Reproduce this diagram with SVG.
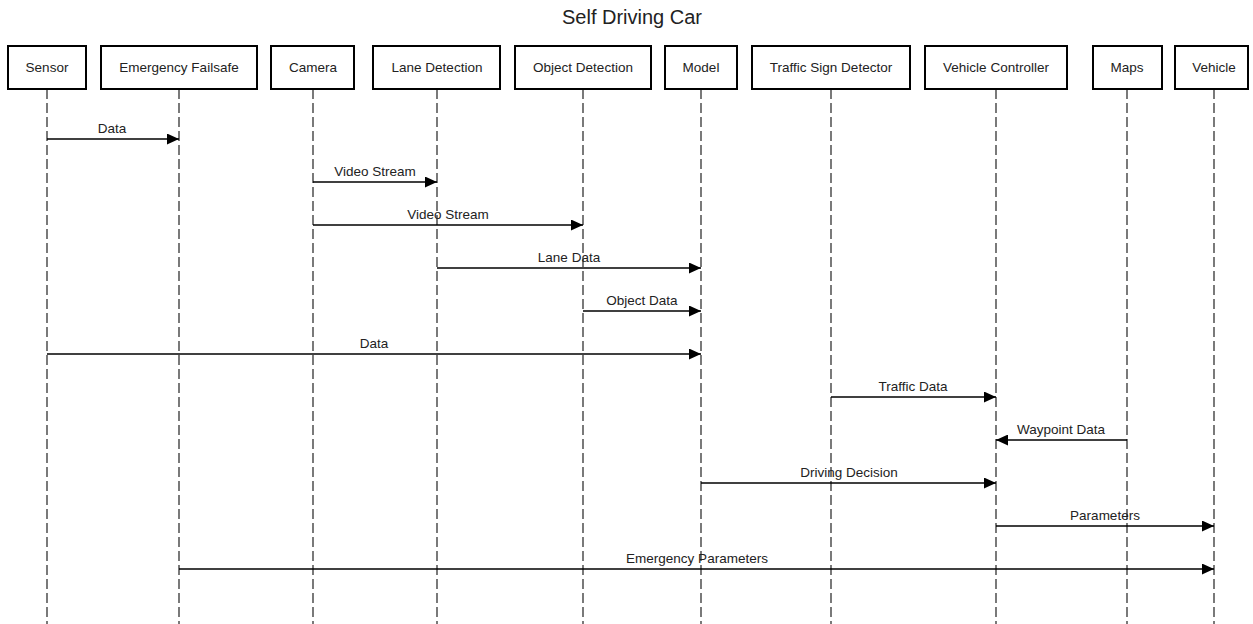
<svg xmlns="http://www.w3.org/2000/svg" width="1253" height="624" viewBox="0 0 1253 624">
<style>
.box{fill:#fff;stroke:#000;stroke-width:2}
.lbl{font-family:"Liberation Sans",Arial,sans-serif;font-size:13.5px;fill:#222;text-anchor:middle}
.life{stroke:#333;stroke-width:1.3;stroke-dasharray:10 4;fill:none}
.msg{stroke:#000;stroke-width:1.3;fill:none;marker-end:url(#ah)}
.title{font-family:"Liberation Sans",Arial,sans-serif;font-size:20px;fill:#222;text-anchor:middle}
</style>
<defs>
<marker id="ah" viewBox="0 0 12 11" refX="12" refY="5.5" markerWidth="12" markerHeight="11" markerUnits="userSpaceOnUse" orient="auto">
<path d="M0,0 L12,5.5 L0,11 Z" fill="#000"/>
</marker>
</defs>
<rect width="1253" height="624" fill="#fff"/>
<text class="title" x="632" y="24">Self Driving Car</text>
<g id="lifelines">
<line class="life" x1="47" y1="89" x2="47" y2="624"/>
<line class="life" x1="179" y1="89" x2="179" y2="624"/>
<line class="life" x1="313" y1="89" x2="313" y2="624"/>
<line class="life" x1="437" y1="89" x2="437" y2="624"/>
<line class="life" x1="583" y1="89" x2="583" y2="624"/>
<line class="life" x1="701" y1="89" x2="701" y2="624"/>
<line class="life" x1="831" y1="89" x2="831" y2="624"/>
<line class="life" x1="996" y1="89" x2="996" y2="624"/>
<line class="life" x1="1127" y1="89" x2="1127" y2="624"/>
<line class="life" x1="1214" y1="89" x2="1214" y2="624"/>
</g>
<g id="sensor"><rect class="box" x="8" y="46" width="78" height="43"/><text class="lbl" x="47" y="72">Sensor</text></g>
<g id="failsafe"><rect class="box" x="101" y="46" width="156" height="43"/><text class="lbl" x="179" y="72">Emergency Failsafe</text></g>
<g id="camera"><rect class="box" x="271" y="46" width="83" height="43"/><text class="lbl" x="313" y="72">Camera</text></g>
<g id="lane"><rect class="box" x="373" y="46" width="127" height="43"/><text class="lbl" x="437" y="72">Lane Detection</text></g>
<g id="object"><rect class="box" x="515" y="46" width="136" height="43"/><text class="lbl" x="583" y="72">Object Detection</text></g>
<g id="model"><rect class="box" x="665" y="46" width="72" height="43"/><text class="lbl" x="701" y="72">Model</text></g>
<g id="traffic"><rect class="box" x="752" y="46" width="158" height="43"/><text class="lbl" x="831" y="72">Traffic Sign Detector</text></g>
<g id="controller"><rect class="box" x="925" y="46" width="142" height="43"/><text class="lbl" x="996" y="72">Vehicle Controller</text></g>
<g id="maps"><rect class="box" x="1093" y="46" width="69" height="43"/><text class="lbl" x="1127" y="72">Maps</text></g>
<g id="vehicle"><rect class="box" x="1175" y="46" width="73" height="43"/><text class="lbl" x="1214" y="72">Vehicle</text></g>
<g id="connectors">
<line class="msg" x1="47" y1="139" x2="179" y2="139"/><text class="lbl" x="112" y="133">Data</text>
<line class="msg" x1="313" y1="182" x2="437" y2="182"/><text class="lbl" x="375" y="176">Video Stream</text>
<line class="msg" x1="313" y1="225" x2="583" y2="225"/><text class="lbl" x="448" y="219">Video Stream</text>
<line class="msg" x1="437" y1="268" x2="701" y2="268"/><text class="lbl" x="569" y="262">Lane Data</text>
<line class="msg" x1="583" y1="311" x2="701" y2="311"/><text class="lbl" x="642" y="305">Object Data</text>
<line class="msg" x1="47" y1="354" x2="701" y2="354"/><text class="lbl" x="374" y="348">Data</text>
<line class="msg" x1="831" y1="397" x2="996" y2="397"/><text class="lbl" x="913" y="391">Traffic Data</text>
<line class="msg" x1="1127" y1="440" x2="996" y2="440"/><text class="lbl" x="1061" y="434">Waypoint Data</text>
<line class="msg" x1="701" y1="483" x2="996" y2="483"/><text class="lbl" x="849" y="477">Driving Decision</text>
<line class="msg" x1="996" y1="526" x2="1214" y2="526"/><text class="lbl" x="1105" y="520">Parameters</text>
<line class="msg" x1="179" y1="569" x2="1214" y2="569"/><text class="lbl" x="697" y="563">Emergency Parameters</text>
</g>
</svg>
